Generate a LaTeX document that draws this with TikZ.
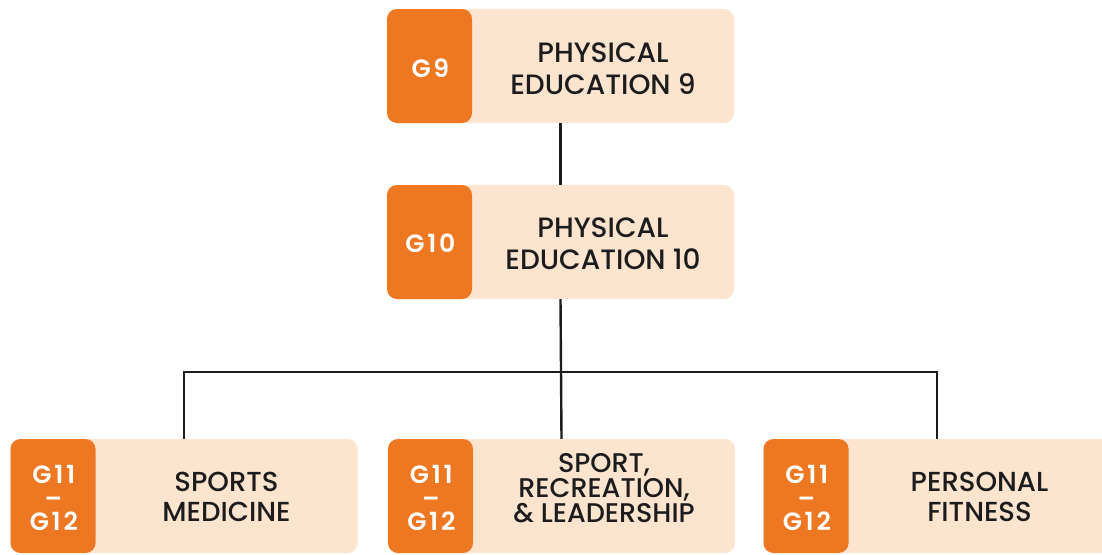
\documentclass[tikz,border=0pt]{standalone}
\usepackage{fontspec}
\setmainfont{Poppins}[UprightFont=* Medium, BoldFont=* SemiBold]
\usetikzlibrary{calc}

\definecolor{tabor}{RGB}{238,119,33}
\definecolor{peach}{RGB}{252,228,207}
\definecolor{ink}{RGB}{28,28,28}

\begin{document}
\begin{tikzpicture}[x=1pt,y=-1pt,
    course/.style={rounded corners=10pt, fill=peach, minimum width=347pt, minimum height=114pt, inner sep=0pt,
        path picture={\fill[tabor] (path picture bounding box.north west) rectangle ([xshift=85pt]path picture bounding box.south west);}},
    grade/.style={text=white, font=\fontsize{25}{20}\selectfont\bfseries\addfontfeatures{LetterSpace=11}, inner sep=0pt, anchor=base},
    title/.style={text=ink, align=center, inner sep=0pt},
    link/.style={draw=ink, line width=2.4pt}]
        \useasboundingbox (0,0) rectangle (1102,554);

        % Course boxes
        \node[course] (pe9) at (560.5,66) {};
        \node[course] (pe10) at (560.5,242) {};
        \node[course] (sm) at (184,496) {};
        \node[course] (srl) at (561.5,496) {};
        \node[course] (pf) at (937,496) {};

        % Grade tabs
        \node[grade] (g9) at ([xshift=43.5pt,yshift=-11pt]pe9.west) {G9};
        \node[grade] (g10) at ([xshift=43.5pt,yshift=-10pt]pe10.west) {G10};
        \foreach \c in {sm,srl,pf}{
            \node[grade] (\c a) at ([xshift=43.5pt,yshift=13pt]\c.west) {G11};
            \node[grade, text height=9pt, text depth=0pt] (\c b) at ([xshift=43pt,yshift=-11pt]\c.west) {--};
            \node[grade] (\c c) at ([xshift=43.5pt,yshift=-34pt]\c.west) {G12};
        }

        % Course titles
        \node[title, font=\fontsize{28}{32}\selectfont] (t9) at ([xshift=42.5pt,yshift=-3pt]pe9.center) {PHYSICAL\\EDUCATION 9};
        \node[title, font=\fontsize{28}{32}\selectfont] (t10) at ([xshift=42.5pt,yshift=-2pt]pe10.center) {PHYSICAL\\EDUCATION 10};
        \node[title, font=\fontsize{27.5}{30}\selectfont] (tsm) at ([xshift=42.5pt,yshift=-1pt]sm.center) {SPORTS\\MEDICINE};
        \node[title, font=\fontsize{27}{25}\selectfont] (tsrl) at ([xshift=42.5pt,yshift=8pt]srl.center) {SPORT,\\RECREATION,\\\& LEADERSHIP};
        \node[title, font=\fontsize{27.5}{30}\selectfont] (tpf) at ([xshift=42.5pt,yshift=-1pt]pf.center) {PERSONAL\\FITNESS};

        % Connectors
        \coordinate (bus) at (560.5,372);
        \draw[link] (pe9.south) -- (pe10.north);
        \draw[link] (pe10.south) -- (srl.north);
        \draw[link] (sm.north) -- (sm.north |- bus) -- (pf.north |- bus) -- (pf.north);

\end{tikzpicture}
\end{document}
